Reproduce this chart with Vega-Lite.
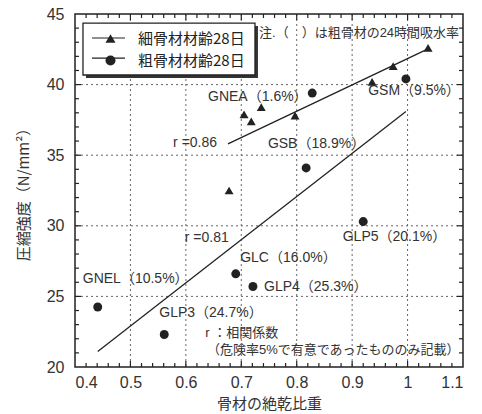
{
  "$schema": "https://vega.github.io/schema/vega-lite/v6.json",
  "width": 388,
  "height": 353,
  "autosize": {"type": "none"},
  "padding": {"left": 75, "top": 14, "right": 19, "bottom": 47},
  "background": "white",
  "datasets": {
    "points": [
      {"series": "細骨材材齢28日", "x": 0.678, "y": 32.5},
      {"series": "細骨材材齢28日", "x": 0.705, "y": 37.9},
      {"series": "細骨材材齢28日", "x": 0.718, "y": 37.4},
      {"series": "細骨材材齢28日", "x": 0.736, "y": 38.4},
      {"series": "細骨材材齢28日", "x": 0.797, "y": 37.8},
      {"series": "細骨材材齢28日", "x": 0.936, "y": 40.2},
      {"series": "細骨材材齢28日", "x": 0.974, "y": 41.3},
      {"series": "細骨材材齢28日", "x": 1.037, "y": 42.6},
      {"series": "粗骨材材齢28日", "x": 0.828, "y": 39.4},
      {"series": "粗骨材材齢28日", "x": 0.997, "y": 40.4},
      {"series": "粗骨材材齢28日", "x": 0.817, "y": 34.1},
      {"series": "粗骨材材齢28日", "x": 0.92, "y": 30.3},
      {"series": "粗骨材材齢28日", "x": 0.69, "y": 26.6},
      {"series": "粗骨材材齢28日", "x": 0.721, "y": 25.7},
      {"series": "粗骨材材齢28日", "x": 0.441, "y": 24.25},
      {"series": "粗骨材材齢28日", "x": 0.561, "y": 22.3}
    ],
    "lines": [
      {"series": "fine", "x": 0.676, "y": 35.8},
      {"series": "fine", "x": 1.035, "y": 42.5},
      {"series": "coarse", "x": 0.441, "y": 21.1},
      {"series": "coarse", "x": 0.997, "y": 38.1}
    ],
    "labels": [
      {"x": 0.64, "y": 39.15, "t": "GNEA（1.6%）"},
      {"x": 0.929, "y": 39.55, "t": "GSM（9.5%）"},
      {"x": 0.748, "y": 35.8, "t": "GSB（18.9%）"},
      {"x": 0.883, "y": 29.2, "t": "GLP5（20.1%）"},
      {"x": 0.698, "y": 27.72, "t": "GLC（16.0%）"},
      {"x": 0.414, "y": 26.23, "t": "GNEL（10.5%）"},
      {"x": 0.741, "y": 25.67, "t": "GLP4（25.3%）"},
      {"x": 0.552, "y": 23.82, "t": "GLP3（24.7%）"},
      {"x": 0.577, "y": 35.86, "t": "r =0.86"},
      {"x": 0.598, "y": 29.14, "t": "r =0.81"}
    ],
    "notes": [
      {"x": 0.732, "y": 43.65, "t": "注.（　）は粗骨材の24時間吸水率"},
      {"x": 0.635, "y": 22.41, "t": "r ：相関係数"},
      {"x": 0.638, "y": 21.2, "t": "（危険率5%で有意であったもののみ記載）"}
    ],
    "xgrid": [{"v": 0.5}, {"v": 0.6}, {"v": 0.7}, {"v": 0.8}, {"v": 0.9}, {"v": 1.0}],
    "ygrid": [{"v": 25}, {"v": 30}, {"v": 35}, {"v": 40}],
    "xminor": [{"v": 0.42}, {"v": 0.44}, {"v": 0.46}, {"v": 0.48}, {"v": 0.52}, {"v": 0.54}, {"v": 0.56}, {"v": 0.58}, {"v": 0.62}, {"v": 0.64}, {"v": 0.66}, {"v": 0.68}, {"v": 0.72}, {"v": 0.74}, {"v": 0.76}, {"v": 0.78}, {"v": 0.82}, {"v": 0.84}, {"v": 0.86}, {"v": 0.88}, {"v": 0.92}, {"v": 0.94}, {"v": 0.96}, {"v": 0.98}, {"v": 1.02}, {"v": 1.04}, {"v": 1.06}, {"v": 1.08}],
    "yminor": [{"v": 21}, {"v": 22}, {"v": 23}, {"v": 24}, {"v": 26}, {"v": 27}, {"v": 28}, {"v": 29}, {"v": 31}, {"v": 32}, {"v": 33}, {"v": 34}, {"v": 36}, {"v": 37}, {"v": 38}, {"v": 39}, {"v": 41}, {"v": 42}, {"v": 43}, {"v": 44}]
  },
  "layer": [
    {
      "data": {"name": "xgrid"},
      "mark": {"type": "rule", "color": "#666", "strokeWidth": 1, "strokeDash": [2, 3]},
      "encoding": {"x": {"field": "v", "type": "quantitative", "axis": null}}
    },
    {
      "data": {"name": "ygrid"},
      "mark": {"type": "rule", "color": "#666", "strokeWidth": 1, "strokeDash": [2, 3]},
      "encoding": {"y": {"field": "v", "type": "quantitative", "axis": null}}
    },
    {
      "data": {"name": "xgrid"},
      "mark": {"type": "rule", "color": "#222", "strokeWidth": 1.2},
      "encoding": {"x": {"field": "v", "type": "quantitative", "axis": null}, "y": {"datum": 20, "type": "quantitative", "axis": null}, "y2": {"datum": 20.43}}
    },
    {
      "data": {"name": "xgrid"},
      "mark": {"type": "rule", "color": "#222", "strokeWidth": 1.2},
      "encoding": {"x": {"field": "v", "type": "quantitative", "axis": null}, "y": {"datum": 45, "type": "quantitative", "axis": null}, "y2": {"datum": 44.57}}
    },
    {
      "data": {"name": "xminor"},
      "mark": {"type": "rule", "color": "#222", "strokeWidth": 1.2},
      "encoding": {"x": {"field": "v", "type": "quantitative", "axis": null}, "y": {"datum": 20, "type": "quantitative", "axis": null}, "y2": {"datum": 20.28}}
    },
    {
      "data": {"name": "xminor"},
      "mark": {"type": "rule", "color": "#222", "strokeWidth": 1.2},
      "encoding": {"x": {"field": "v", "type": "quantitative", "axis": null}, "y": {"datum": 45, "type": "quantitative", "axis": null}, "y2": {"datum": 44.72}}
    },
    {
      "data": {"name": "ygrid"},
      "mark": {"type": "rule", "color": "#222", "strokeWidth": 1.2},
      "encoding": {"y": {"field": "v", "type": "quantitative", "axis": null}, "x": {"datum": 0.4, "type": "quantitative", "axis": null}, "x2": {"datum": 0.4108}}
    },
    {
      "data": {"name": "ygrid"},
      "mark": {"type": "rule", "color": "#222", "strokeWidth": 1.2},
      "encoding": {"y": {"field": "v", "type": "quantitative", "axis": null}, "x": {"datum": 1.1, "type": "quantitative", "axis": null}, "x2": {"datum": 1.0892}}
    },
    {
      "data": {"name": "yminor"},
      "mark": {"type": "rule", "color": "#222", "strokeWidth": 1.2},
      "encoding": {"y": {"field": "v", "type": "quantitative", "axis": null}, "x": {"datum": 0.4, "type": "quantitative", "axis": null}, "x2": {"datum": 0.4072}}
    },
    {
      "data": {"name": "yminor"},
      "mark": {"type": "rule", "color": "#222", "strokeWidth": 1.2},
      "encoding": {"y": {"field": "v", "type": "quantitative", "axis": null}, "x": {"datum": 1.1, "type": "quantitative", "axis": null}, "x2": {"datum": 1.0928}}
    },
    {
      "data": {"values": [{}]},
      "mark": {"type": "rect", "fill": "#333"},
      "encoding": {"x": {"datum": 0.4198, "type": "quantitative", "axis": null}, "x2": {"datum": 0.7301}, "y": {"datum": 44.15, "type": "quantitative", "axis": null}, "y2": {"datum": 40.47}}
    },
    {
      "data": {"values": [{}]},
      "mark": {"type": "rect", "fill": "white", "stroke": "#222", "strokeWidth": 1.3},
      "encoding": {"x": {"datum": 0.4144, "type": "quantitative", "axis": null}, "x2": {"datum": 0.7247}, "y": {"datum": 44.36, "type": "quantitative", "axis": null}, "y2": {"datum": 40.68}}
    },
    {
      "data": {"values": [{}]},
      "mark": {"type": "rule", "color": "#222", "strokeWidth": 1.2},
      "encoding": {"x": {"datum": 0.4307, "type": "quantitative", "axis": null}, "x2": {"datum": 0.4902}, "y": {"datum": 43.3, "type": "quantitative", "axis": null}}
    },
    {
      "data": {"values": [{}]},
      "mark": {"type": "rule", "color": "#222", "strokeWidth": 1.2},
      "encoding": {"x": {"datum": 0.4307, "type": "quantitative", "axis": null}, "x2": {"datum": 0.4902}, "y": {"datum": 41.88, "type": "quantitative", "axis": null}}
    },
    {
      "data": {"name": "lines"},
      "mark": {"type": "line", "color": "#222", "strokeWidth": 1.3},
      "encoding": {
        "x": {"field": "x", "type": "quantitative", "axis": null},
        "y": {"field": "y", "type": "quantitative", "axis": null},
        "detail": {"field": "series"}
      }
    },
    {
      "data": {"name": "points"},
      "mark": {"type": "point", "filled": true, "opacity": 1, "color": "#222", "size": 80},
      "encoding": {
        "x": {
          "field": "x", "type": "quantitative",
          "scale": {"domain": [0.4, 1.1], "nice": false, "zero": false},
          "axis": {
            "orient": "bottom", "values": [0.4, 0.5, 0.6, 0.7, 0.8, 0.9, 1, 1.1], "format": "~g",
            "ticks": false, "grid": false, "domain": false, "labelPadding": 7, "labelFontSize": 16,
            "title": "骨材の絶乾比重", "titlePadding": 6, "titleFontSize": 15
          }
        },
        "y": {
          "field": "y", "type": "quantitative",
          "scale": {"domain": [20, 45], "nice": false, "zero": false},
          "axis": {
            "orient": "left", "values": [20, 25, 30, 35, 40, 45],
            "ticks": false, "grid": false, "domain": false, "labelPadding": 11, "labelFontSize": 16,
            "title": "圧縮強度（N/mm²）", "titlePadding": 15, "titleFontSize": 15
          }
        },
        "shape": {
          "field": "series", "type": "nominal",
          "scale": {"domain": ["細骨材材齢28日", "粗骨材材齢28日"], "range": ["triangle-up", "circle"]},
          "legend": {
            "orient": "none", "legendX": 8, "legendY": 9, "title": null,
            "padding": 8, "symbolSize": 100, "symbolOffset": 12, "labelOffset": 20, "rowPadding": 5,
            "symbolFillColor": "#222", "symbolStrokeColor": "#222", "symbolOpacity": 1,
            "labelFontSize": 15, "labelFont": "Noto Sans CJK JP", "labelColor": "#222"
          }
        }
      }
    },
    {
      "data": {"name": "labels"},
      "mark": {"type": "text", "align": "left", "baseline": "middle", "fontSize": 14, "font": "Liberation Sans, Noto Sans CJK JP", "color": "#333"},
      "encoding": {
        "x": {"field": "x", "type": "quantitative", "axis": null},
        "y": {"field": "y", "type": "quantitative", "axis": null},
        "text": {"field": "t"}
      }
    },
    {
      "data": {"name": "notes"},
      "mark": {"type": "text", "align": "left", "baseline": "middle", "fontSize": 13, "font": "Liberation Sans, Noto Sans CJK JP", "color": "#333"},
      "encoding": {
        "x": {"field": "x", "type": "quantitative", "axis": null},
        "y": {"field": "y", "type": "quantitative", "axis": null},
        "text": {"field": "t"}
      }
    }
  ],
  "resolve": {"axis": {"x": "independent", "y": "independent"}},
  "config": {
    "view": {"stroke": "#222", "strokeWidth": 1.5},
    "axis": {
      "labelColor": "#333", "labelFont": "Liberation Sans",
      "titleColor": "#333", "titleFont": "Noto Sans CJK JP", "titleFontWeight": "normal"
    }
  }
}
